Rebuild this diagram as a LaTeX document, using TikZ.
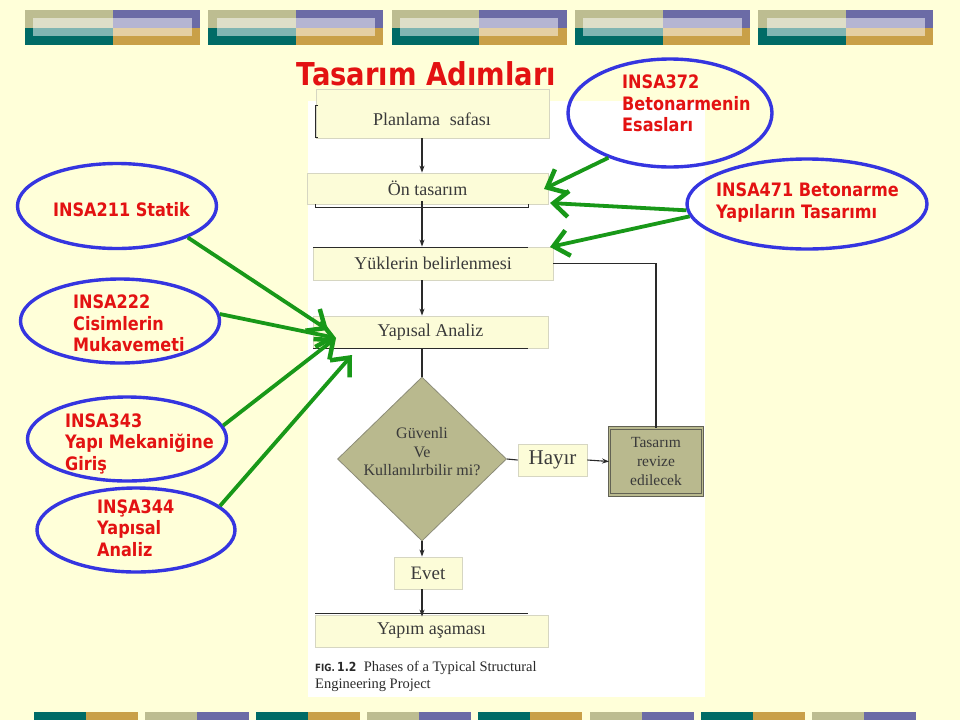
\documentclass[tikz,border=0pt]{standalone}
\usepackage{fontspec}
\setmainfont{Liberation Serif}
\newfontfamily\vsans[FakeStretch=0.87]{DejaVu Sans}
\usetikzlibrary{shapes.geometric,arrows.meta}
\definecolor{bgc}{HTML}{FFFFD9}
\definecolor{khaki}{HTML}{BDBD91}
\definecolor{purp}{HTML}{6B6BA6}
\definecolor{tealc}{HTML}{006B66}
\definecolor{goldc}{HTML}{C9A048}
\definecolor{boxfill}{HTML}{FCFCD8}
\definecolor{boxline}{HTML}{D6D6C2}
\definecolor{dfill}{HTML}{B9B98E}
\definecolor{dline}{HTML}{8C8C78}
\definecolor{redt}{HTML}{E31212}
\definecolor{bluee}{HTML}{3535E0}
\definecolor{greena}{HTML}{189818}
\definecolor{serifgray}{HTML}{3A3A3A}
\definecolor{darkl}{HTML}{2A2A2A}
\tikzset{
  fbox/.style={draw=boxline, fill=boxfill, line width=0.8pt, inner sep=0pt, text=serifgray, font=\fontsize{18}{20}\selectfont},
  ell/.style={ellipse, draw=bluee, line width=3.4pt, inner sep=0pt},
  lab/.style={font=\vsans\bfseries\fontsize{18.5}{21.5}\selectfont, text=redt, align=left, inner sep=0pt, anchor=west},
  garr/.style={draw=greena, line width=3.8pt, -{Straight Barb[length=15pt,width=26pt,line width=4.5pt]}},
  barr/.style={draw=darkl, line width=1.1pt, -{Stealth[length=7pt,width=5pt]}},
  bline/.style={draw=darkl, line width=1.1pt},
  resid/.style={draw=darkl, line width=1pt}
}
\begin{document}
\begin{tikzpicture}[x=1pt,y=-1pt]
\useasboundingbox (0,0) rectangle (960,720);
\fill[bgc] (0,0) rectangle (960,720);
% top bars
\foreach \g in {0,...,4}{
  \pgfmathsetmacro\xa{25+183.33*\g}
  \fill[khaki] (\xa,10) rectangle ++(87.5,17.7);
  \fill[purp] (\xa+87.5,10) rectangle ++(87.5,17.7);
  \fill[tealc] (\xa,27.7) rectangle ++(87.5,17.3);
  \fill[goldc] (\xa+87.5,27.7) rectangle ++(87.5,17.3);
  \fill[white,opacity=0.5] (\xa+8.3,18.3) rectangle (\xa+166.7,36);
}
% bottom bars
\foreach \i in {0,2,4,6}{
  \pgfmathsetmacro\xb{34+111.1*\i}
  \fill[tealc] (\xb,712) rectangle ++(52,8);
  \fill[goldc] (\xb+52,712) rectangle ++(52,8);
}
\foreach \i in {1,3,5,7}{
  \pgfmathsetmacro\xb{34+111.1*\i}
  \fill[khaki] (\xb,712) rectangle ++(52,8);
  \fill[purp] (\xb+52,712) rectangle ++(52,8);
}
% white panel
\fill[white] (308,101) rectangle (705,697);
% title
\node[font=\vsans\bfseries\fontsize{31.5}{34}\selectfont, text=redt, inner sep=0pt] (title) at (426.5,74) {Tasarım Adımları};
% flowchart boxes
\node[fbox, minimum width=233pt, minimum height=49pt] (plan) at (432.5,113.5) {};
\node[text=serifgray, font=\fontsize{18}{20}\selectfont, inner sep=0pt] (plant) at (432,119) {Planlama\hspace{0.55em}safası};
\node[fbox, minimum width=241pt, minimum height=31pt] (on) at (427.5,188.5) {Ön tasarım};
\node[fbox, minimum width=240pt, minimum height=33pt] (yuk) at (433,263.5) {Yüklerin belirlenmesi};
\node[fbox, minimum width=235pt, minimum height=32pt] (yap) at (430.5,332) {Yapısal Analiz};
\node[diamond, draw=dline, fill=dfill, line width=0.8pt, inner sep=0pt, minimum width=169pt, minimum height=164pt] (dia) at (422,459) {};
\node[text=serifgray, font=\fontsize{16}{18.5}\selectfont, align=center, inner sep=0pt] (diat) at (422,452) {Güvenli\\Ve\\Kullanılırbilir mi?};
\node[fbox, minimum width=69pt, minimum height=32pt, font=\fontsize{21}{23}\selectfont] (hay) at (552.5,460) {Hayır};
\node[draw=dline!70!black, double=dfill, double distance=1.6pt, fill=dfill, line width=0.8pt, inner sep=0pt, minimum width=93pt, minimum height=67pt, text=serifgray, align=center, font=\fontsize{15.5}{19}\selectfont] (rev) at (656,461.5) {Tasarım\\revize\\edilecek};
\node[fbox, minimum width=68pt, minimum height=32pt, font=\fontsize{19}{21}\selectfont] (evet) at (428,573) {Evet};
\node[fbox, minimum width=233pt, minimum height=32pt] (yapim) at (431.5,631) {Yapım aşaması};
% residue lines of original figure
\draw[resid] (318,105) -- (315,105) -- (315,137) -- (318,137);
\draw[resid] (315,204) -- (315,207) -- (528,207) -- (528,204);
\draw[resid] (313,247) -- (528,247);
\draw[resid] (313,348) -- (528,348);
\draw[resid] (315,613) -- (528,613);
% flowchart connectors
\draw[barr] (plan.south -| dia.north) -- (on.north -| dia.north);
\draw[barr] ([yshift=3pt]on.south -| dia.north) -- (yuk.north -| dia.north);
\draw[barr] (yuk.south -| dia.north) -- (yap.north -| dia.north);
\draw[bline] (yap.south -| dia.north) -- (dia.north);
\draw[bline] (dia.east) -- (hay.west);
\draw[barr] (hay.east) -- (rev.west);
\draw[bline] (rev.north) |- (yuk.east);
\draw[barr] (dia.south) -- (evet.north -| dia.south);
\draw[barr] (evet.south -| dia.south) -- ([yshift=-2pt]yapim.north -| dia.south);
% caption
\node[anchor=north west, align=left, inner sep=0pt, text=darkl, font=\fontsize{14.5}{17}\selectfont] (cap) at (315,661) {{\vsans\bfseries\fontsize{10}{12}\selectfont FIG.}\,{\vsans\bfseries\fontsize{12.5}{14}\selectfont 1.2}\ \ Phases of a Typical Structural\\Engineering Project};
% ellipses
\node[ell, minimum width=204pt, minimum height=108pt] (e372) at (670,113) {};
\node[ell, minimum width=240pt, minimum height=90pt] (e471) at (807,204) {};
\node[ell, minimum width=199pt, minimum height=85pt] (e211) at (117,206) {};
\node[ell, minimum width=199pt, minimum height=84pt] (e222) at (120,321) {};
\node[ell, minimum width=199pt, minimum height=84pt] (e343) at (127,439) {};
\node[ell, minimum width=198pt, minimum height=84pt] (e344) at (136,530) {};
% labels
\node[lab] (t372) at (622,103.5) {INSA372\\Betonarmenin\\Esasları};
\node[lab] (t471) at (716,202.5) {INSA471 Betonarme\\Yapıların Tasarımı};
\node[lab, anchor=center] (t211) at (121.5,210) {INSA211 Statik};
\node[lab] (t222) at (73,323.5) {INSA222\\Cisimlerin\\Mukavemeti};
\node[lab] (t343) at (65,443.5) {INSA343\\Yapı Mekaniğine\\Giriş};
\node[lab] (t344) at (97,528) {INŞA344\\Yapısal\\Analiz};
% green arrows
\coordinate (p1) at (544,189);
\coordinate (p2) at (550,203);
\coordinate (p3) at (550,247);
\coordinate (p4) at (328,330);
\coordinate (p5) at (336,338);
\coordinate (p6) at (352,355);
\draw[garr] (e372.216) -- (p1);
\draw[garr] (e471.183) -- (p2);
\draw[garr] (e471.186) -- (p3);
\draw[garr] (e211.336) -- (p4);
\draw[garr] (e222.4) -- (p5);
\draw[garr] (e343.8) -- (p5);
\draw[garr] (e344.16) -- (p6);
\end{tikzpicture}
\end{document}
